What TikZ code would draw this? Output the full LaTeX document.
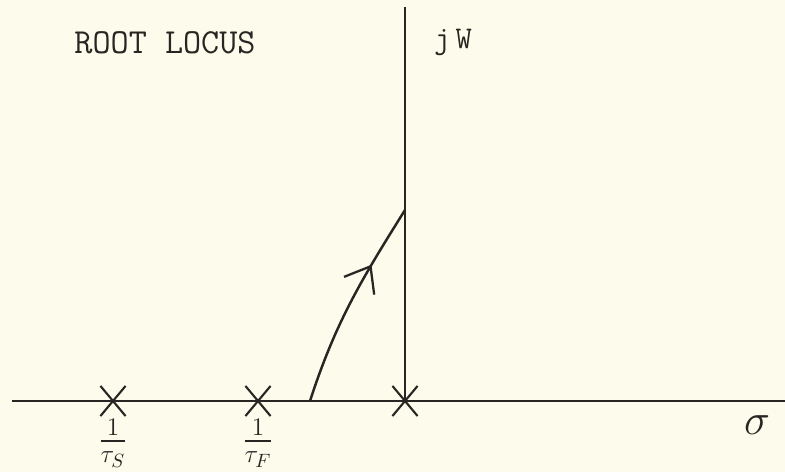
\documentclass[tikz,border=0pt]{standalone}
\usepackage{amsmath}
\usetikzlibrary{arrows.meta,shapes.misc,decorations.markings}
\definecolor{rlpaper}{RGB}{252,251,236}
\definecolor{rlink}{RGB}{40,38,34}

\begin{document}
\begin{tikzpicture}[
  font=\ttfamily\fontsize{18}{20}\selectfont,
  axis/.style={draw=rlink,line width=1.3pt},
  pole/.style={cross out,draw=rlink,line width=1.2pt,minimum width=4.6mm,minimum height=5.6mm,inner sep=0pt},
  lbl/.style={text=rlink,inner sep=0pt},
  frac/.style={lbl,anchor=north,font=\fontsize{21}{23}\selectfont},
  locus/.style={draw=rlink,line width=1.4pt,postaction={decorate},
    decoration={markings,mark=at position 0.7 with {\arrow{Straight Barb[length=4.5mm,width=7mm,line width=1.3pt]}}}}
]
  \fill[rlpaper] (0,0) rectangle (15.7,9.44);
  \useasboundingbox (0,0) rectangle (15.7,9.44);

  % axes
  \coordinate (wl) at (0.24,1.42);
  \coordinate (wr) at (15.7,1.42);
  \coordinate (jt) at (8.1,9.3);
  \node[pole] (p0) at (8.1,1.42) {};
  \node[pole] (pf) at (5.16,1.42) {};
  \node[pole] (ps) at (2.26,1.42) {};
  \draw[axis] (wl) -- (wr);
  \draw[axis] (jt) -- (p0.center);

  % labels
  \node[lbl,font=\ttfamily\fontsize{20}{22}\selectfont] (title) at (3.3,8.58) {ROOT LOCUS};
  \node[lbl] (jw) at (9.06,8.6) {j\,W};
  \node[lbl,font=\fontsize{24}{26}\selectfont] (sig) at (15.14,0.93) {$\sigma$};
  \node[frac] (ls) at (2.26,1.06) {$\tfrac{1}{\tau_S}$};
  \node[frac] (lf) at (5.16,1.06) {$\tfrac{1}{\tau_F}$};

  % branch to the jw axis
  \coordinate (bk) at (6.2,1.42);
  \coordinate (cr) at (8.1,5.24);
  \draw[locus] (bk) to[out=72,in=238] (cr);
\end{tikzpicture}
\end{document}
